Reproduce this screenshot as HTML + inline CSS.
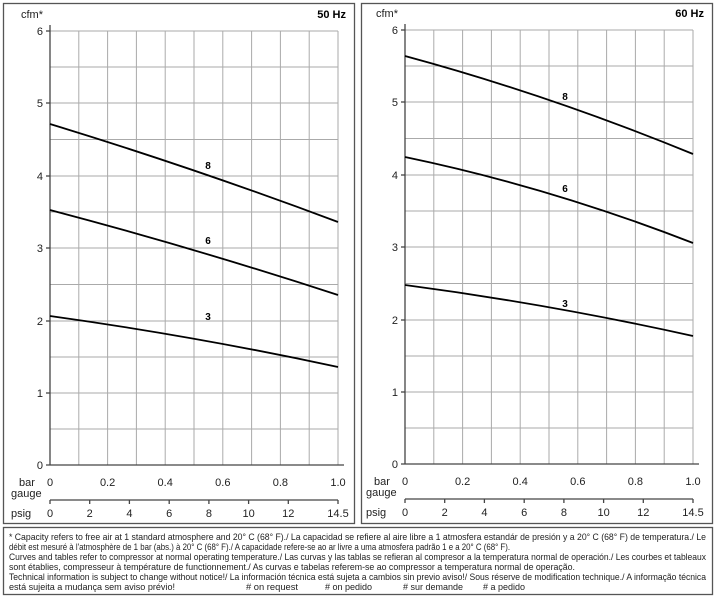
<!DOCTYPE html>
<html><head><meta charset="utf-8"><style>
body{margin:0;background:#fff;}
svg{display:block;font-family:"Liberation Sans",sans-serif;}
</style></head><body>
<svg width="717" height="600" viewBox="0 0 717 600" xmlns="http://www.w3.org/2000/svg">
<rect x="0" y="0" width="717" height="600" fill="#fff"/>
<rect x="3.5" y="3.5" width="351" height="520" fill="none" stroke="#555" stroke-width="1.3"/>
<rect x="361.5" y="3.5" width="351" height="520" fill="none" stroke="#555" stroke-width="1.3"/>
<rect x="3.5" y="527.5" width="709" height="67" fill="none" stroke="#555" stroke-width="1.3"/>

<g id="L">
<g stroke="#aaa" stroke-width="1">
<line x1="50" y1="31" x2="338" y2="31"/><line x1="50" y1="67" x2="338" y2="67"/>
<line x1="50" y1="103" x2="338" y2="103"/><line x1="50" y1="139.5" x2="338" y2="139.5"/>
<line x1="50" y1="176" x2="338" y2="176"/><line x1="50" y1="212" x2="338" y2="212"/>
<line x1="50" y1="248" x2="338" y2="248"/><line x1="50" y1="284.5" x2="338" y2="284.5"/>
<line x1="50" y1="321" x2="338" y2="321"/><line x1="50" y1="357" x2="338" y2="357"/>
<line x1="50" y1="393" x2="338" y2="393"/><line x1="50" y1="429" x2="338" y2="429"/>
<line x1="78.8" y1="31" x2="78.8" y2="465"/><line x1="107.6" y1="31" x2="107.6" y2="465"/>
<line x1="136.4" y1="31" x2="136.4" y2="465"/><line x1="165.2" y1="31" x2="165.2" y2="465"/>
<line x1="194" y1="31" x2="194" y2="465"/><line x1="222.8" y1="31" x2="222.8" y2="465"/>
<line x1="251.6" y1="31" x2="251.6" y2="465"/><line x1="280.4" y1="31" x2="280.4" y2="465"/>
<line x1="309.2" y1="31" x2="309.2" y2="465"/><line x1="338" y1="31" x2="338" y2="465"/>
</g>
<g stroke="#444" stroke-width="1.3">
<line x1="50" y1="25" x2="50" y2="465"/><line x1="46" y1="465" x2="344" y2="465"/>
<line x1="46" y1="31" x2="50" y2="31"/><line x1="46" y1="103" x2="50" y2="103"/><line x1="46" y1="176" x2="50" y2="176"/>
<line x1="46" y1="248" x2="50" y2="248"/><line x1="46" y1="321" x2="50" y2="321"/><line x1="46" y1="393" x2="50" y2="393"/>
<line x1="50" y1="500" x2="338" y2="500"/>
<line x1="50" y1="500" x2="50" y2="504"/><line x1="89.7" y1="500" x2="89.7" y2="504"/><line x1="129.4" y1="500" x2="129.4" y2="504"/>
<line x1="169.2" y1="500" x2="169.2" y2="504"/><line x1="208.9" y1="500" x2="208.9" y2="504"/><line x1="248.6" y1="500" x2="248.6" y2="504"/>
<line x1="288.3" y1="500" x2="288.3" y2="504"/><line x1="338" y1="500" x2="338" y2="504"/>
</g>
<g font-size="11" fill="#222" text-anchor="end">
<text x="43" y="35">6</text><text x="43" y="107">5</text><text x="43" y="180">4</text><text x="43" y="252">3</text>
<text x="43" y="325">2</text><text x="43" y="397">1</text><text x="43" y="469">0</text>
</g>
<g font-size="11" fill="#222" text-anchor="middle">
<text x="50" y="486">0</text><text x="107.6" y="486">0.2</text><text x="165.2" y="486">0.4</text><text x="222.8" y="486">0.6</text>
<text x="280.4" y="486">0.8</text><text x="338" y="486">1.0</text>
<text x="50" y="517">0</text><text x="89.7" y="517">2</text><text x="129.4" y="517">4</text><text x="169.2" y="517">6</text>
<text x="208.9" y="517">8</text><text x="248.6" y="517">10</text><text x="288.3" y="517">12</text><text x="338" y="517">14.5</text>
</g>
<g font-size="11" fill="#222"><text x="19" y="486">bar</text><text x="11" y="497">gauge</text><text x="11" y="517">psig</text>
<text x="21" y="18">cfm*</text></g>
<text x="346" y="18" font-size="11" font-weight="bold" text-anchor="end">50 Hz</text>
<g fill="none" stroke="#000" stroke-width="1.8">
<path d="M50,124 Q194,168 338,222"/>
<path d="M50,210 Q194,248 338,295"/>
<path d="M50,316 Q194,336 338,367"/>
</g>
<g font-size="10" font-weight="bold" text-anchor="middle">
<text x="208" y="169">8</text>
<text x="208" y="244">6</text>
<text x="208" y="320">3</text>
</g>
</g>

<g transform="translate(355,-1)">
<g stroke="#aaa" stroke-width="1">
<line x1="50" y1="31" x2="338" y2="31"/><line x1="50" y1="67" x2="338" y2="67"/>
<line x1="50" y1="103" x2="338" y2="103"/><line x1="50" y1="139.5" x2="338" y2="139.5"/>
<line x1="50" y1="176" x2="338" y2="176"/><line x1="50" y1="212" x2="338" y2="212"/>
<line x1="50" y1="248" x2="338" y2="248"/><line x1="50" y1="284.5" x2="338" y2="284.5"/>
<line x1="50" y1="321" x2="338" y2="321"/><line x1="50" y1="357" x2="338" y2="357"/>
<line x1="50" y1="393" x2="338" y2="393"/><line x1="50" y1="429" x2="338" y2="429"/>
<line x1="78.8" y1="31" x2="78.8" y2="465"/><line x1="107.6" y1="31" x2="107.6" y2="465"/>
<line x1="136.4" y1="31" x2="136.4" y2="465"/><line x1="165.2" y1="31" x2="165.2" y2="465"/>
<line x1="194" y1="31" x2="194" y2="465"/><line x1="222.8" y1="31" x2="222.8" y2="465"/>
<line x1="251.6" y1="31" x2="251.6" y2="465"/><line x1="280.4" y1="31" x2="280.4" y2="465"/>
<line x1="309.2" y1="31" x2="309.2" y2="465"/><line x1="338" y1="31" x2="338" y2="465"/>
</g>
<g stroke="#444" stroke-width="1.3">
<line x1="50" y1="25" x2="50" y2="465"/><line x1="46" y1="465" x2="344" y2="465"/>
<line x1="46" y1="31" x2="50" y2="31"/><line x1="46" y1="103" x2="50" y2="103"/><line x1="46" y1="176" x2="50" y2="176"/>
<line x1="46" y1="248" x2="50" y2="248"/><line x1="46" y1="321" x2="50" y2="321"/><line x1="46" y1="393" x2="50" y2="393"/>
<line x1="50" y1="500" x2="338" y2="500"/>
<line x1="50" y1="500" x2="50" y2="504"/><line x1="89.7" y1="500" x2="89.7" y2="504"/><line x1="129.4" y1="500" x2="129.4" y2="504"/>
<line x1="169.2" y1="500" x2="169.2" y2="504"/><line x1="208.9" y1="500" x2="208.9" y2="504"/><line x1="248.6" y1="500" x2="248.6" y2="504"/>
<line x1="288.3" y1="500" x2="288.3" y2="504"/><line x1="338" y1="500" x2="338" y2="504"/>
</g>
<g font-size="11" fill="#222" text-anchor="end">
<text x="43" y="35">6</text><text x="43" y="107">5</text><text x="43" y="180">4</text><text x="43" y="252">3</text>
<text x="43" y="325">2</text><text x="43" y="397">1</text><text x="43" y="469">0</text>
</g>
<g font-size="11" fill="#222" text-anchor="middle">
<text x="50" y="486">0</text><text x="107.6" y="486">0.2</text><text x="165.2" y="486">0.4</text><text x="222.8" y="486">0.6</text>
<text x="280.4" y="486">0.8</text><text x="338" y="486">1.0</text>
<text x="50" y="517">0</text><text x="89.7" y="517">2</text><text x="129.4" y="517">4</text><text x="169.2" y="517">6</text>
<text x="208.9" y="517">8</text><text x="248.6" y="517">10</text><text x="288.3" y="517">12</text><text x="338" y="517">14.5</text>
</g>
<g font-size="11" fill="#222"><text x="19" y="486">bar</text><text x="11" y="497">gauge</text><text x="11" y="517">psig</text>
<text x="21" y="18">cfm*</text></g>
<text x="349" y="18" font-size="11" font-weight="bold" text-anchor="end">60 Hz</text>
<g fill="none" stroke="#000" stroke-width="1.8">
<path d="M50,57 Q194,96 338,155"/>
<path d="M50,158 Q194,188 338,244"/>
<path d="M50,286 Q194,305 338,337"/>
</g>
<g font-size="10" font-weight="bold" text-anchor="middle">
<rect x="203" y="89" width="14" height="12" fill="#fff"/><text x="210" y="101">8</text>
<text x="210" y="193">6</text>
<text x="210" y="308">3</text>
</g>
</g>

<g font-size="9.4" fill="#222">
<text x="9" y="540" textLength="697" lengthAdjust="spacingAndGlyphs">* Capacity refers to free air at 1 standard atmosphere and 20° C (68° F)./ La capacidad se refiere al aire libre a 1 atmosfera estandár de presión y a 20° C (68° F) de temperatura./ Le</text>
<text x="9" y="550" textLength="501" lengthAdjust="spacingAndGlyphs">débit est mesuré à l'atmosphère de 1 bar (abs.) à 20° C (68° F)./ A capacidade refere-se ao ar livre a uma atmosfera padrão 1 e a 20° C (68° F).</text>
<text x="9" y="560" textLength="697" lengthAdjust="spacingAndGlyphs">Curves and tables refer to compressor at normal operating temperature./ Las curvas y las tablas se refieran al compresor a la temperatura normal de operación./ Les courbes et tableaux</text>
<text x="9" y="570" textLength="566" lengthAdjust="spacingAndGlyphs">sont établies, compresseur à température de functionnement./ As curvas e tabelas referem-se ao compressor a temperatura normal de operação.</text>
<text x="9" y="580" textLength="697" lengthAdjust="spacingAndGlyphs">Technical information is subject to change without notice!/ La información técnica está sujeta a cambios sin previo aviso!/ Sous réserve de modification technique./ A informação técnica</text>
<text x="9" y="590" textLength="166" lengthAdjust="spacingAndGlyphs">está sujeita a mudança sem aviso prévio!</text>
<text x="246" y="590" textLength="52" lengthAdjust="spacingAndGlyphs"># on request</text>
<text x="325" y="590" textLength="47" lengthAdjust="spacingAndGlyphs"># on pedido</text>
<text x="403" y="590" textLength="60" lengthAdjust="spacingAndGlyphs"># sur demande</text>
<text x="483" y="590" textLength="42" lengthAdjust="spacingAndGlyphs"># a pedido</text>
</g>
</svg>
</body></html>
